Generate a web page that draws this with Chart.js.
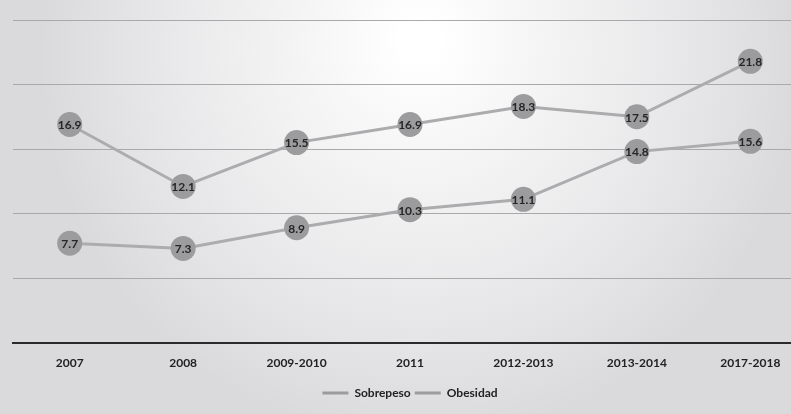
<!DOCTYPE html>
<html>
<head>
    <title>Sobrepeso y Obesidad</title>
    <script src="https://cdn.jsdelivr.net/npm/chart.js"></script>
    <style>
        html, body {
            margin: 0;
            padding: 0;
            background: #e2e2e4;
            overflow: hidden;
        }
        /* the scan cuts the chart off on the right, so the canvas is a bit wider than the page */
        #wrap {
            width: 807px;
            height: 414px;
        }
    </style>
</head>
<body>
    <div id="wrap"><canvas id="chart"></canvas></div>

    <script>
        const years = ['2007', '2008', '2009-2010', '2011', '2012-2013', '2013-2014', '2017-2018'];
        const sobrepeso = [16.9, 12.1, 15.5, 16.9, 18.3, 17.5, 21.8];
        const obesidad = [7.7, 7.3, 8.9, 10.3, 11.1, 14.8, 15.6];

        const lineGray = '#acacae';
        const dotGray = '#9c9c9e';
        const fontName = 'Lato, "Open Sans", sans-serif';

        // scanned-paper look behind the chart
        const paper = {
            id: 'paper',
            beforeDraw(chart) {
                const c = chart.ctx;
                c.save();
                c.fillStyle = '#dadadd';
                c.fillRect(0, 0, chart.width, chart.height);
                const g = c.createRadialGradient(420, 40, 20, 420, 60, 380);
                g.addColorStop(0, 'rgba(255,255,255,1)');
                g.addColorStop(0.5, 'rgba(250,250,250,0.6)');
                g.addColorStop(1, 'rgba(255,255,255,0)');
                c.fillStyle = g;
                c.fillRect(0, 0, chart.width, chart.height);
                c.restore();
            }
        };

        // value labels inside the points
        const valueLabels = {
            id: 'valueLabels',
            afterDatasetsDraw(chart) {
                const c = chart.ctx;
                c.save();
                c.font = 'bold 12px ' + fontName;
                c.fillStyle = '#262626';
                c.textAlign = 'center';
                c.textBaseline = 'middle';
                chart.data.datasets.forEach((ds, i) => {
                    chart.getDatasetMeta(i).data.forEach((pt, j) => {
                        c.fillText(ds.data[j].toFixed(1), pt.x, pt.y + 1);
                    });
                });
                c.restore();
            }
        };

        new Chart(document.getElementById('chart'), {
            type: 'line',
            data: {
                labels: years,
                datasets: [{
                    label: 'Sobrepeso',
                    data: sobrepeso,
                    borderColor: lineGray,
                    borderWidth: 3,
                    pointRadius: 12.5,
                    pointBackgroundColor: dotGray,
                    pointBorderColor: dotGray,
                    pointBorderWidth: 0,
                    tension: 0
                }, {
                    label: 'Obesidad',
                    data: obesidad,
                    borderColor: lineGray,
                    borderWidth: 3,
                    pointRadius: 12.5,
                    pointBackgroundColor: dotGray,
                    pointBorderColor: dotGray,
                    pointBorderWidth: 0,
                    tension: 0
                }]
            },
            options: {
                responsive: true,
                maintainAspectRatio: false,
                animation: false,
                layout: {
                    autoPadding: false,
                    padding: { left: 13, right: 0, top: 20, bottom: 5 }
                },
                scales: {
                    x: {
                        offset: true,
                        grid: { display: false, drawTicks: false },
                        border: { color: '#2b2b2b', width: 2 },
                        ticks: {
                            color: '#222',
                            padding: 13,
                            font: { family: fontName, size: 12, weight: 'bold' }
                        },
                        afterFit(scale) {
                            scale.paddingLeft = 0;
                            scale.paddingRight = 0;
                        }
                    },
                    y: {
                        min: 0,
                        max: 25,
                        ticks: { display: false, stepSize: 5 },
                        border: { display: false },
                        grid: { color: '#a9a9ab', lineWidth: 1, drawTicks: false }
                    }
                },
                plugins: {
                    tooltip: { enabled: false },
                    legend: {
                        position: 'bottom',
                        labels: {
                            color: '#222',
                            padding: 4,
                            usePointStyle: true,
                            pointStyleWidth: 26,
                            font: { family: fontName, size: 12, weight: 'bold' },
                            generateLabels(chart) {
                                return Chart.defaults.plugins.legend.labels.generateLabels(chart).map(l => {
                                    l.pointStyle = 'line';
                                    l.lineWidth = 3;
                                    return l;
                                });
                            }
                        }
                    }
                }
            },
            plugins: [paper, valueLabels]
        });
    </script>
</body>
</html>
